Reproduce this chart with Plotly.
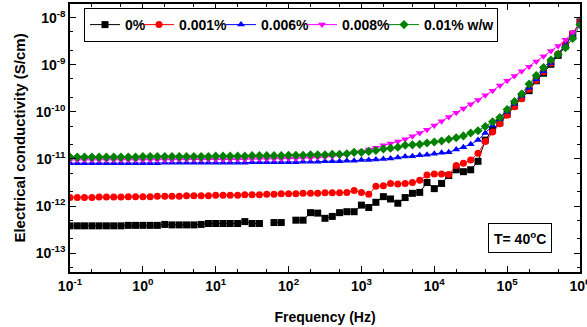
import plotly.graph_objects as go

# Frequency grid (Hz)
freq = [0.1, 0.126, 0.158, 0.2, 0.251, 0.316, 0.398, 0.501, 0.631, 0.794,
        1, 1.26, 1.58, 2, 2.51, 3.16, 3.98, 5.01, 6.31, 7.94,
        10, 12.6, 15.8, 20, 25.1, 31.6, 39.8, 50.1, 63.1, 79.4,
        100, 126, 158, 200, 251, 316, 398, 501, 631, 794,
        1000, 1260, 1580, 2000, 2510, 3160, 3980, 5010, 6310, 7940,
        1e4, 1.26e4, 1.58e4, 2e4, 2.51e4, 3.16e4, 3.98e4, 5.01e4, 6.31e4, 7.94e4,
        1e5, 1.26e5, 1.58e5, 2e5, 2.51e5, 3.16e5, 3.98e5, 5.01e5, 6.31e5, 7.94e5, 1e6]

# log10 of electrical conductivity (S/cm)
log_s_0 = [-12.42, -12.42, -12.42, -12.42, -12.42, -12.42, -12.42, -12.42, -12.41, -12.41,
           -12.41, -12.41, -12.41, -12.39, -12.40, -12.40, -12.40, -12.40, -12.39, -12.37,
           -12.37, -12.37, -12.37, -12.37, -12.33, -12.37, -12.37, None, -12.35, -12.35,
           None, -12.30, -12.30, -12.14, -12.15, -12.26, -12.22, -12.14, -12.12, -12.12,
           -11.98, -12.03, -11.92, -11.80, -11.85, -11.94, -11.82, -11.73, -11.71, -11.50,
           -11.63, -11.52, -11.35, -11.23, -11.27, -11.23, -11.05, -10.60, -10.38, -10.23,
           -10.05, -9.87, -9.70, -9.55, -9.34, -9.18, -8.99, -8.80, -8.60, -8.35, -8.09]
log_s_0001 = [-11.82, -11.82, -11.82, -11.82, -11.81, -11.81, -11.81, -11.81, -11.80, -11.80,
              -11.80, -11.80, -11.79, -11.79, -11.79, -11.79, -11.78, -11.78, -11.78, -11.78,
              -11.77, -11.77, -11.77, -11.77, -11.76, -11.76, -11.76, -11.75, -11.75, -11.74,
              -11.74, -11.74, -11.73, -11.73, -11.73, -11.72, -11.72, -11.72, -11.71, -11.67,
              -11.71, -11.75, -11.58, -11.57, -11.52, -11.53, -11.52, -11.50, -11.45, -11.34,
              -11.32, -11.32, -11.33, -11.14, -11.09, -11.02, -10.88, -10.63, -10.43, -10.25,
              -10.07, -9.89, -9.72, -9.52, -9.33, -9.15, -8.96, -8.77, -8.57, -8.34, -8.10]
log_s_0006 = [-11.09, -11.09, -11.09, -11.09, -11.09, -11.09, -11.09, -11.09, -11.09, -11.09,
              -11.09, -11.09, -11.09, -11.08, -11.08, -11.08, -11.08, -11.08, -11.08, -11.08,
              -11.08, -11.08, -11.08, -11.08, -11.08, -11.07, -11.07, -11.07, -11.07, -11.07,
              -11.07, -11.07, -11.06, -11.06, -11.06, -11.05, -11.05, -11.05, -11.04, -11.04,
              -11.02, -11.02, -11.01, -11.00, -10.99, -10.97, -10.95, -10.94, -10.92, -10.91,
              -10.89, -10.87, -10.86, -10.80, -10.75, -10.69, -10.60, -10.45, -10.29, -10.15,
              -10.00, -9.83, -9.66, -9.49, -9.31, -9.14, -8.96, -8.78, -8.58, -8.36, -8.11]
log_s_0008 = [-11.02, -11.02, -11.02, -11.02, -11.02, -11.02, -11.02, -11.02, -11.02, -11.02,
              -11.02, -11.02, -11.02, -11.02, -11.02, -11.01, -11.01, -11.01, -11.01, -11.01,
              -11.01, -11.01, -11.01, -11.01, -11.01, -11.00, -11.00, -11.00, -11.00, -11.00,
              -10.99, -10.99, -10.98, -10.98, -10.97, -10.96, -10.95, -10.93, -10.91, -10.88,
              -10.84, -10.80, -10.76, -10.71, -10.67, -10.63, -10.58, -10.52, -10.45, -10.38,
              -10.29, -10.20, -10.11, -10.02, -9.93, -9.84, -9.75, -9.65, -9.55, -9.44,
              -9.34, -9.24, -9.14, -9.04, -8.93, -8.82, -8.71, -8.60, -8.47, -8.32, -8.14]
log_s_001 = [-10.96, -10.96, -10.96, -10.96, -10.96, -10.96, -10.96, -10.96, -10.96, -10.96,
             -10.95, -10.95, -10.95, -10.95, -10.95, -10.95, -10.95, -10.95, -10.95, -10.95,
             -10.94, -10.94, -10.94, -10.94, -10.94, -10.93, -10.93, -10.93, -10.93, -10.93,
             -10.92, -10.92, -10.92, -10.91, -10.91, -10.91, -10.90, -10.90, -10.89, -10.86,
             -10.86, -10.84, -10.82, -10.79, -10.77, -10.75, -10.71, -10.70, -10.69, -10.66,
             -10.64, -10.62, -10.58, -10.55, -10.51, -10.45, -10.40, -10.31, -10.21, -10.12,
             -9.95, -9.78, -9.62, -9.41, -9.23, -9.06, -8.90, -8.78, -8.64, -8.44, -8.15]

series_names = ["0%", "0.001%", "0.006%", "0.008%", "0.01% w/w"]
series_logs = [log_s_0, log_s_0001, log_s_0006, log_s_0008, log_s_001]
series_colors = ["#000000", "#FF0000", "#0000FF", "#FF00FF", "#008000"]
series_symbols = ["square", "circle", "triangle-up", "triangle-down", "diamond"]
legend_widths = [9, 37, 36, 37, 68]

x_tickvals = [1e-1, 1e0, 1e1, 1e2, 1e3, 1e4, 1e5, 1e6]
x_ticktext = ["10<sup>-1</sup>", "10<sup>0</sup>", "10<sup>1</sup>", "10<sup>2</sup>",
              "10<sup>3</sup>", "10<sup>4</sup>", "10<sup>5</sup>", "10<sup>6</sup>"]
y_tickvals = [1e-13, 1e-12, 1e-11, 1e-10, 1e-9, 1e-8]
y_ticktext = ["10<sup>-13</sup>", "10<sup>-12</sup>", "10<sup>-11</sup>",
              "10<sup>-10</sup>", "10<sup>-9</sup>", "10<sup>-8</sup>"]

FONT = "Liberation Sans, Arial, sans-serif"

fig = go.Figure()
for name, logs, col, sym, lw in zip(series_names, series_logs, series_colors,
                                     series_symbols, legend_widths):
    yvals = [None if v is None else 10 ** v for v in logs]
    fig.add_trace(go.Scatter(
        x=freq, y=yvals, name=name, mode="lines+markers",
        line=dict(color=col, width=1),
        marker=dict(symbol=sym, size=7, color=col, line=dict(width=0)),
        connectgaps=False, legendwidth=lw,
    ))

axis_common = dict(
    type="log", showgrid=False, zeroline=False,
    showline=True, linecolor="black", linewidth=1.5, mirror="ticks",
    ticks="inside", ticklen=6, tickwidth=1, tickcolor="black",
    minor=dict(ticks="inside", ticklen=3, tickwidth=1, tickcolor="black", showgrid=False),
    tickfont=dict(family=FONT, size=14, color="black", weight="bold"),
    ticklabeloverflow="allow", automargin=False,
)

fig.update_xaxes(
    **axis_common,
    range=[-1, 6],
    tickvals=x_tickvals, ticktext=x_ticktext,
    title=dict(text="Frequency (Hz)", font=dict(family=FONT, size=14, color="black", weight="bold"), standoff=20),
)
fig.update_yaxes(
    **axis_common,
    range=[-13.40, -7.71],
    tickvals=y_tickvals, ticktext=y_ticktext,
    title=dict(text="Electrical conductivity (S/cm)", font=dict(family=FONT, size=15, color="black", weight="bold"), standoff=6),
)

fig.add_annotation(
    x=0.882, y=0.127, xref="paper", yref="paper", xanchor="center", yanchor="middle",
    text="T= 40<sup>o</sup>C", showarrow=False,
    font=dict(family=FONT, size=14, color="black", weight="bold"),
    bordercolor="black", borderwidth=1, borderpad=5, bgcolor="white",
)

fig.update_layout(
    width=587, height=327,
    margin=dict(l=70, r=7, t=4, b=55, autoexpand=False),
    paper_bgcolor="white", plot_bgcolor="white",
    showlegend=True,
    legend=dict(
        orientation="h", x=(84 - 70) / 510, y=0.985, xanchor="left", yanchor="top",
        bordercolor="black", borderwidth=1, bgcolor="white",
        font=dict(family=FONT, size=14, color="black", weight="bold"),
        itemwidth=30, tracegroupgap=0,
    ),
)

fig.write_html("out.html")
